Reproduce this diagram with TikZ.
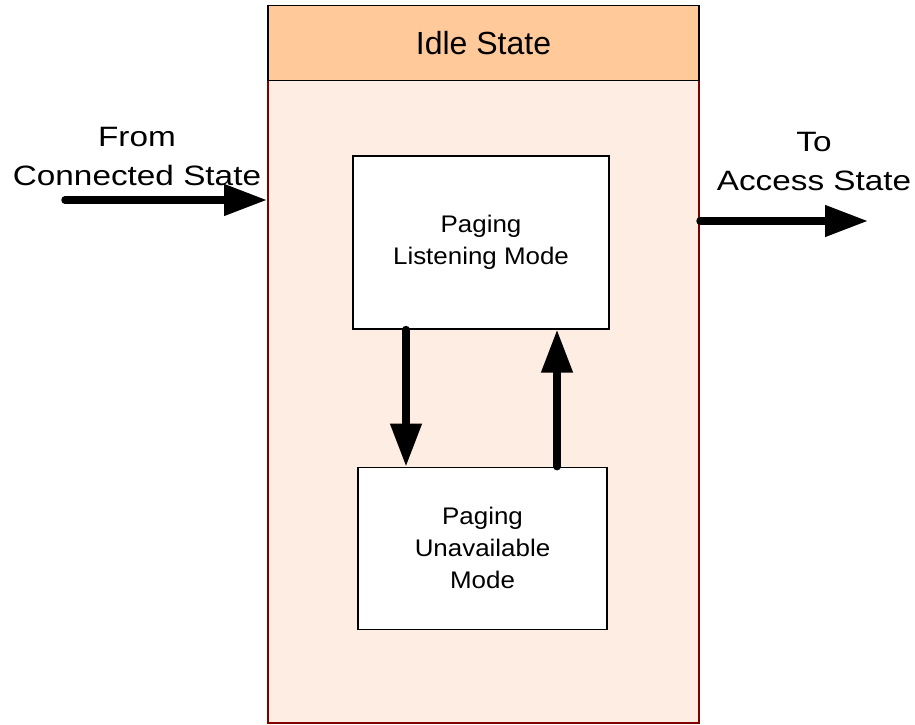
\documentclass[tikz,border=0pt]{standalone}
\usepackage{fontspec}
\setmainfont{Liberation Sans}
\newfontfamily\widefont[FakeStretch=1.19]{Liberation Sans}
\newfontfamily\modefont[FakeStretch=1.08]{Liberation Sans}
\usetikzlibrary{arrows.meta,positioning}
\definecolor{idleborder}{RGB}{128,0,0}
\definecolor{idlehead}{RGB}{255,201,153}
\definecolor{idlebody}{RGB}{253,237,226}

\begin{document}
\begin{tikzpicture}[x=1pt,y=1pt]
  \tikzstyle{mode} = [draw,fill=white,line width=1.2pt,align=center,font=\modefont\fontsize{24}{32}\selectfont];
  \tikzstyle{flow} = [line width=7.5pt,line cap=round,-{Triangle[length=43pt,width=30pt]}];
  \tikzstyle{side} = [align=center,font=\widefont\fontsize{28}{39}\selectfont];
  \useasboundingbox (0,0) rectangle (915,724);
  \node[draw=idleborder,fill=idlebody,line width=2pt,inner sep=0,
    minimum width=431pt,minimum height=717pt,anchor=north west] (idle) at (267,719) {};
  \node[draw,fill=idlehead,line width=1.5pt,inner sep=0,font=\fontsize{32}{38}\selectfont,
    minimum width=431pt,minimum height=75pt,anchor=north] (head) at (idle.north) {Idle State};
  \node[mode,minimum width=256pt,minimum height=173pt] (listen) at (481,481.5) {Paging\\Listening Mode};
  \node[mode,minimum width=249pt,minimum height=162pt,below=137pt of listen,xshift=1.5pt] (unavail) {Paging\\Unavailable\\Mode};
  % transitions between the two modes
  \draw[flow] ([xshift=-75pt]listen.south) -- ([xshift=-75pt]listen.south |- unavail.north);
  \draw[flow] ([xshift=76pt]listen.south |- unavail.north) -- ([xshift=76pt]listen.south);
  % entering and leaving the idle state
  \coordinate (from) at (65,524);
  \coordinate (to) at (868,503);
  \draw[flow] (from) -- (from -| idle.west);
  \draw[flow] (to -| idle.east) -- (to);
  \node[side] (fromtxt) at (137,567) {From\\Connected State};
  \node[side] (totxt) at (814,562) {To\\Access State};
\end{tikzpicture}
\end{document}
